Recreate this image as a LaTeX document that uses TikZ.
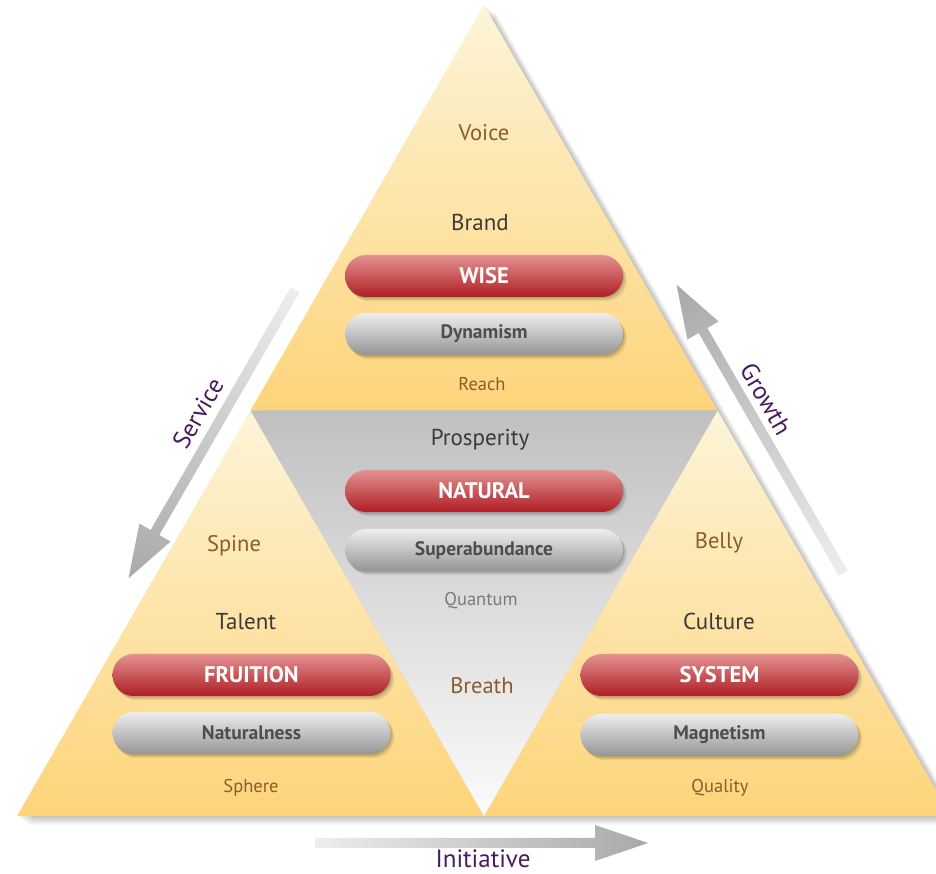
\documentclass[tikz,border=0pt]{standalone}
\usepackage{fontspec}
\setmainfont{PT Sans}
\usetikzlibrary{shadows}
\definecolor{brn}{HTML}{8A5C2E}
\definecolor{drk}{HTML}{3A3A3A}
\definecolor{qgr}{HTML}{7A7A7A}
\definecolor{prp}{HTML}{4B1A5C}
\definecolor{yTop}{HTML}{FDF4D8}
\definecolor{yBot}{HTML}{FDD47A}
\definecolor{gTop}{HTML}{C0C0C0}
\definecolor{gBot}{HTML}{FBFBFB}
\definecolor{rTop}{HTML}{E49292}
\definecolor{rBot}{HTML}{AE1E25}
\definecolor{pTop}{HTML}{EEEEEE}
\definecolor{pBot}{HTML}{959595}
\definecolor{aL}{HTML}{EDEDED}
\definecolor{aD}{HTML}{A9A9A9}
\newcommand{\myfs}[1]{\fontsize{#1}{#1}\selectfont}
\begin{document}
\begin{tikzpicture}[x=1pt,y=1pt,
  lbl/.style={font=\myfs{23}, text=drk},
  blbl/.style={font=\myfs{22.5}, text=brn},
  slbl/.style={font=\myfs{18.5}, text=brn},
  pshadow/.style={
    drop shadow={shadow xshift=1pt,shadow yshift=-1.5pt,opacity=0.12,fill=black},
    drop shadow={shadow xshift=2.5pt,shadow yshift=-3pt,opacity=0.10,fill=black},
    drop shadow={shadow xshift=4pt,shadow yshift=-4.5pt,opacity=0.06,fill=black}},
  pill/.style={pshadow, rectangle, rounded corners=21pt, minimum width=278pt, minimum height=42pt, inner sep=0pt},
  redpill/.style={pill, top color=rTop, bottom color=rBot, text=white, font=\bfseries\myfs{22.5}},
  graypill/.style={pill, top color=pTop, bottom color=pBot, text=drk!90, font=\bfseries\myfs{19.5}},
  axlbl/.style={font=\myfs{25}, text=prp, inner sep=1pt},
  arrowshape/.style={left color=aL, right color=aD}
]
\useasboundingbox (0,0) rectangle (936,874);
\fill[white] (0,0) rectangle (936,874);

% vertices
\coordinate (A) at (484,869);
\coordinate (BL) at (17,58);
\coordinate (BR) at (951,58);
\coordinate (ML) at (250.5,463.5);
\coordinate (MR) at (717.5,463.5);
\coordinate (MB) at (484,58);

% soft shadow of big triangle
\foreach \k in {1,...,8}{
  \fill[black,opacity=0.03] ([shift={(1.5*\k,-1.1*\k)}]A) -- ([shift={(1.5*\k,-1.1*\k)}]BL) -- ([shift={(1.5*\k,-1.1*\k)}]BR) -- cycle;
}

% four triangles
\shade[top color=yTop, bottom color=yBot] (A) -- (ML) -- (MR) -- cycle;
\shade[top color=yTop, bottom color=yBot] (ML) -- (BL) -- (MB) -- cycle;
\shade[top color=yTop, bottom color=yBot] (MR) -- (MB) -- (BR) -- cycle;
\shade[top color=gTop, bottom color=gBot] (ML) -- (MR) -- (MB) -- cycle;

% arrows
\coordinate (svcTail) at (295,584);
\coordinate (svcTip) at (128,296);
\coordinate (grwTail) at (843,301);
\coordinate (grwTip) at (678,589);
\coordinate (iniTail) at (315,31);
\coordinate (iniTip) at (648,31);
\begin{scope}[transform canvas={shift={(svcTail)}, rotate=240}]
  \shade[arrowshape] (0,-5) -- (280,-5) -- (280,-18) -- (333,0) -- (280,18) -- (280,5) -- (0,5) -- cycle;
\end{scope}
\begin{scope}[transform canvas={shift={(grwTail)}, rotate=120}]
  \shade[arrowshape] (0,-5) -- (280,-5) -- (280,-18) -- (333,0) -- (280,18) -- (280,5) -- (0,5) -- cycle;
\end{scope}
\begin{scope}[transform canvas={shift={(iniTail)}}]
  \shade[arrowshape] (0,-5) -- (280,-5) -- (280,-18) -- (333,0) -- (280,18) -- (280,5) -- (0,5) -- cycle;
\end{scope}
\node[axlbl, rotate=60] (service) at (198,461) {Service};
\node[axlbl, rotate=-60] (growth) at (766,475) {Growth};
\node[axlbl] (initiative) at (483,15) {Initiative};

% top triangle
\node[blbl] (voice) at (484,741) {Voice};
\node[lbl] (brand) at (480,651) {Brand};
\node[redpill] (wise) at (484,598) {WISE};
\node[graypill] (dynamism) at (484,540) {Dynamism};
\node[slbl] (reach) at (482,490) {Reach};

% middle triangle
\node[lbl] (prosperity) at (480,434) {Prosperity};
\node[redpill] (natural) at (484,383) {NATURAL};
\node[graypill] (superab) at (484,324) {Superabundance};
\node[font=\myfs{18.5}, text=qgr] (quantum) at (481,273) {Quantum};
\node[blbl] (breath) at (482,188) {Breath};

% left triangle
\node[blbl] (spine) at (234,328) {Spine};
\node[lbl] (talent) at (246,252) {Talent};
\node[redpill] (fruition) at (251.5,199) {FRUITION};
\node[graypill] (naturalness) at (251.5,141) {Naturalness};
\node[slbl] (sphere) at (251,86) {Sphere};

% right triangle
\node[blbl] (belly) at (719,331) {Belly};
\node[lbl] (culture) at (719,253) {Culture};
\node[redpill] (system) at (719.5,199) {SYSTEM};
\node[graypill] (magnetism) at (719.5,139) {Magnetism};
\node[slbl] (quality) at (720,86) {Quality};
\end{tikzpicture}
\end{document}
